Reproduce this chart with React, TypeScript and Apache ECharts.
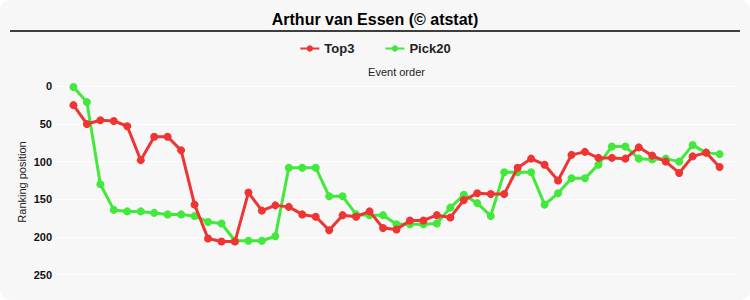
import React, { useEffect, useRef } from "react";
import * as echarts from "echarts";

const titleText = "Arthur van Essen (© atstat)";
const yAxisTitle = "Ranking position";
const seriesNames = ["Top3", "Pick20"];
const events = [
  1, 2, 3, 4, 5, 6, 7, 8, 9, 10, 11, 12, 13, 14, 15, 16, 17, 18, 19, 20, 21, 22, 23, 24, 25,
  26, 27, 28, 29, 30, 31, 32, 33, 34, 35, 36, 37, 38, 39, 40, 41, 42, 43, 44, 45, 46, 47, 48, 49,
];
const top3 = [
  25, 50, 45, 46, 53, 98, 67, 67, 85, 157, 202, 206,
  206, 141, 165, 158, 160, 170, 173, 191, 171, 173, 166, 188,
  190, 178, 178, 171, 174, 151, 142, 143, 143, 108, 96, 104,
  125, 91, 87, 95, 95, 96, 81, 92, 100, 115, 93, 88, 107,
];
const pick20 = [
  1, 21, 130, 164, 166, 166, 168, 170, 170, 172, 180, 182,
  205, 205, 205, 199, 108, 108, 108, 146, 146, 170, 171, 171,
  183, 183, 183, 182, 161, 144, 155, 172, 114, 114, 114, 157,
  142, 122, 122, 104, 80, 80, 96, 97, 96, 100, 78, 88, 90,
];
const yTicks = [0, 50, 100, 150, 200, 250];

const RED = "#ef3434";
const GREEN = "#42e83b";
const FONT = "'Liberation Sans', Arial, sans-serif";

export default function App() {
  const ref = useRef<HTMLDivElement>(null);
  useEffect(() => {
    document.body.style.margin = "0";
    const chart = echarts.init(ref.current!, null, { renderer: "svg" });
    const mk = (vals: number[]) => vals.map((v, i) => [events[i], v]);
    chart.setOption({
      animation: false,
      backgroundColor: "#ffffff",
      textStyle: { fontFamily: FONT },
      graphic: [
        {
          type: "rect",
          z: -100,
          silent: true,
          shape: { x: 0, y: 0, width: 750, height: 300, r: 10 },
          style: { fill: "#f7f7f7" },
        },
        {
          type: "line",
          silent: true,
          shape: { x1: 10, y1: 31, x2: 740, y2: 31 },
          style: { stroke: "#000", lineWidth: 1.5 },
        },
        {
          type: "text",
          silent: true,
          x: 22,
          y: 182,
          rotation: Math.PI / 2,
          style: {
            text: yAxisTitle,
            fill: "#222",
            font: `11px ${FONT}`,
            align: "center",
            verticalAlign: "middle",
          },
        },
      ],
      title: {
        text: titleText,
        left: "center",
        top: 6,
        textStyle: { fontFamily: FONT, fontSize: 16, fontWeight: "bold", color: "#000" },
      },
      legend: {
        data: seriesNames,
        top: 37,
        left: "center",
        itemWidth: 19,
        itemHeight: 8,
        itemGap: 30,
        textStyle: { fontFamily: FONT, fontSize: 13, fontWeight: "bold", color: "#222" },
      },
      grid: { left: 57, right: 14, top: 86.3, bottom: 25.3, containLabel: false },
      xAxis: {
        type: "value",
        position: "top",
        min: -0.22,
        max: 50.22,
        name: "Event order",
        nameLocation: "middle",
        nameGap: 9,
        nameTextStyle: { fontFamily: FONT, fontSize: 11, color: "#222" },
        axisLine: { show: false },
        axisTick: { show: false },
        axisLabel: { show: false },
        splitLine: { show: false },
      },
      yAxis: {
        type: "value",
        inverse: true,
        min: yTicks[0],
        max: yTicks[yTicks.length - 1],
        interval: 50,
        axisLine: { show: false },
        axisTick: { show: false },
        axisLabel: { fontFamily: FONT, fontSize: 11, fontWeight: "bold", color: "#111", margin: 5 },
        splitLine: { show: true, lineStyle: { color: "#ffffff", width: 1 } },
      },
      series: [
        {
          name: seriesNames[0],
          type: "line",
          z: 3,
          data: mk(top3),
          symbol: "circle",
          symbolSize: 8,
          color: RED,
          lineStyle: { width: 3, color: RED },
          itemStyle: { color: RED },
        },
        {
          name: seriesNames[1],
          type: "line",
          z: 2,
          data: mk(pick20),
          symbol: "circle",
          symbolSize: 8,
          color: GREEN,
          lineStyle: { width: 3, color: GREEN },
          itemStyle: { color: GREEN },
        },
      ],
    });
    return () => chart.dispose();
  }, []);
  return (
    <div
      ref={ref}
      style={{ position: "absolute", left: 0, top: 0, width: 750, height: 300 }}
    />
  );
}
